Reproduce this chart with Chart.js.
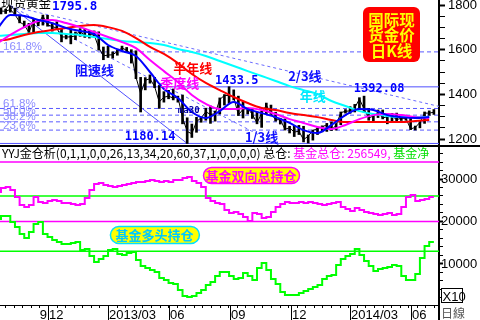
<!DOCTYPE html>
<html><head><meta charset="utf-8">
<script src="https://cdn.jsdelivr.net/npm/chart.js@4.4.1/dist/chart.umd.min.js"></script>
<style>
html,body{margin:0;padding:0;background:#fff;}
#wrap{position:relative;width:480px;height:320px;overflow:hidden;background:#fff;}
#top{position:absolute;left:0;top:0;}
#bot{position:absolute;left:0;top:146px;}
</style></head><body>
<div id="wrap"><canvas id="top" width="480" height="146"></canvas><canvas id="bot" width="480" height="174"></canvas></div>
<script>
// ---------- DATA (weekly, week 0 = 2012-09-14) ----------
const goldClose = [1770,1773,1772,1780,1757,1724,1711,1677,1730,1714,
 1752,1711,1704,1696,1657,1657,1657,1662,1687,1658,
 1667,1667,1609,1572,1576,1577,1592,1608,1597,1580,
 1477,1404,1463,1470,1435,1366,1387,1392,1383,1388,
 1296,1234,1223,1278,1295,1322,1310,1313,1377,1395,
 1395,1387,1308,1333,1338,1310,1272,1315,1352,1315,
 1286,1287,1244,1250,1231,1235,1197,1213,1238,1247,
 1254,1264,1240,1262,1318,1324,1326,1339,1379,1335,
 1294,1303,1318,1294,1300,1302,1287,1293,1292,1245,
 1252,1274,1316,1316,1320];
const goldHigh = [1778,1787,1781,1796,1786,1755,1728,1718,1738,1735,
 1755,1754,1720,1725,1695,1670,1693,1679,1694,1695,
 1684,1684,1680,1612,1616,1590,1597,1616,1610,1600,
 1595,1476,1475,1487,1476,1440,1412,1418,1424,1392,
 1397,1295,1267,1297,1298,1338,1348,1325,1384,1399,
 1434,1420,1392,1367,1340,1335,1320,1325,1361,1352,
 1320,1293,1290,1257,1260,1261,1257,1218,1240,1250,
 1259,1270,1276,1269,1321,1332,1345,1355,1385,1392,
 1337,1306,1330,1330,1302,1315,1316,1305,1302,1296,
 1258,1278,1321,1326,1332];
const goldLow = [1755,1760,1762,1768,1755,1720,1700,1672,1675,1707,
 1710,1705,1683,1690,1635,1648,1626,1645,1660,1655,
 1652,1662,1598,1555,1565,1562,1575,1598,1590,1540,
 1470,1321,1420,1450,1430,1337,1365,1380,1375,1365,
 1268,1180,1207,1230,1275,1284,1270,1280,1312,1352,
 1360,1375,1305,1294,1312,1292,1268,1252,1310,1310,
 1280,1267,1240,1227,1211,1220,1187,1182,1195,1220,
 1232,1234,1238,1240,1264,1316,1315,1321,1332,1320,
 1284,1277,1296,1290,1268,1279,1282,1283,1284,1242,
 1240,1250,1270,1306,1310];
// moving averages sampled every 3 weeks
const maWeeks = [0,3,6,9,12,15,18,21,24,27,30,33,36,39,42,45,48,51,54,57,60,63,66,69,72,75,78,81,84,87,90,93];
const maBlue = [1688,1755,1751,1733,1719,1697,1684,1670,1621,1594,1572,1500,1424,1384,1321,1294,1325,1366,1334,1316,1298,1272,1240,1227,1263,1307,1334,1330,1307,1298,1294,1298];
const maQuarter = [1625,1666,1701,1728,1733,1719,1701,1679,1657,1634,1607,1554,1504,1455,1397,1357,1334,1334,1339,1330,1312,1289,1272,1254,1245,1263,1289,1307,1312,1307,1298,1294];
const maHalfYear = [1639,1648,1666,1679,1688,1697,1706,1710,1701,1684,1652,1612,1581,1540,1491,1451,1419,1388,1361,1339,1330,1316,1307,1298,1285,1276,1276,1276,1276,1276,1281,1285];
const maYear = [1661,1666,1670,1675,1675,1670,1666,1657,1648,1639,1634,1630,1621,1603,1590,1572,1549,1527,1504,1482,1460,1437,1419,1401,1370,1348,1325,1312,1303,1298,1298,1298];
// fund positions (x10)
const fundTotal = [26940,26940,27880,28120,27410,25760,23880,23410,23880,25760,
 24590,24350,24820,25060,24820,24350,24350,24120,23880,24120,
 25530,27410,28820,29060,28590,28350,28120,28350,28590,28820,
 29060,29290,29290,29530,29760,29530,29290,29530,29290,29760,
 29760,30240,30470,29530,29060,28120,25530,24820,24350,24120,
 22710,22000,22240,21770,21060,20120,22000,21770,20820,21060,
 22240,23410,24120,24590,24350,24350,24590,24350,24590,24350,
 24120,23880,24120,24350,24590,23410,22940,22470,23170,22710,
 22240,22000,21770,21530,21770,22000,21530,21770,23410,25760,
 26240,24820,25060,25290,25760];
const fundLong = [20120,20590,21290,21290,19880,18710,17060,16120,17530,19410,
 19880,17060,16350,15650,15180,14710,14710,14940,15180,13290,
 13530,11880,10470,11180,11880,13290,13530,12350,12120,12590,
 12820,10940,9530,9060,8590,8120,6710,6240,5530,5300,
 3880,2470,2240,2470,3180,3880,5060,5760,7180,8120,
 8120,7180,6470,6710,7880,7180,6240,9060,10240,8590,
 6470,5300,3410,2710,2710,2710,3180,3650,4120,4590,
 5060,6470,7180,7410,9760,11180,11880,12350,13530,12120,
 10710,9530,8350,8820,9060,9290,9760,9530,7180,6240,
 6240,7650,11410,14240,15180];
// reference levels
const priceHigh = 1795.8, priceLow = 1180.14, swingHigh = 1433.5, swingHigh2 = 1392.08;
const fibLevels = [1590, 1336.7, 1306.8, 1276.9, 1239.9];
const fibLabels = ['161.8%','61.8%','50.0%','38.2%','23.6%'];
const speedStart = {x:3, y:1795.8};
const speedLow = {x:41, y:1180.14};
const speedTwoThirdEnd = {x:95.1, y:1346};
const speedOneThirdEnd = {x:61, y:1169};
const fundLines = {top:34000, green1:26000, mag:20000, green2:13000};
// axis ticks
const priceTicks = [1200,1250,1300,1350,1400,1450,1500,1550,1600,1650,1700,1750,1800];
const fundTicks = [2000,4000,6000,8000,10000,12000,14000,16000,18000,20000,22000,24000,26000,28000,30000,32000,34000,36000];
const xTickWeeks = [11.1,24,37.1,50.3,63.3,76,89.1];
const xTickLabels = ['12','2013/03','06','09','12','2014/03','06'];
const X_MIN = 0.787, X_MAX = 95.1;

// ---------- helpers ----------
Chart.defaults.font.family = '"Liberation Sans", Arial, sans-serif';
Chart.defaults.animation = false;
const CJK = '"Noto Sans CJK SC", "Liberation Sans", sans-serif';
const MONO = '"DejaVu Sans Mono", monospace';
const pts = arr => arr.map((v,i)=>({x:i,y:v}));
const maPts = arr => arr.map((v,i)=>({x:maWeeks[i],y:v}));
const hline = v => [{x:X_MIN,y:v},{x:X_MAX,y:v}];
const lineDS = (data,color,w,extra) => Object.assign({type:'line',data,borderColor:color,borderWidth:w,pointRadius:0,fill:false,tension:0}, extra||{});
const noPad = s => { s.paddingTop=0; s.paddingBottom=0; s.paddingLeft=0; s.paddingRight=0; };

// ---------- TOP chart ----------
const topNotes = [
 {t:'阻速线', w:16.9, v:1536, c:'#1010ff', f:'bold 13px '+CJK},
 {t:'半年线', w:38.0, v:1545, c:'#ff0000', f:'bold 13px '+CJK},
 {t:'季度线', w:35.2, v:1478, c:'#ff00ff', f:'bold 13px '+CJK},
 {t:'1433.5', w:47.0, v:1487, c:'#0000ff', f:'bold 12px '+MONO},
 {t:'2/3线', w:62.7, v:1509, c:'#1010ff', f:'bold 13px '+CJK},
 {t:'年线', w:65.2, v:1420, c:'#00e8ff', f:'bold 13px '+CJK},
 {t:'1392.08', w:76.8, v:1451, c:'#0000ff', f:'bold 12px '+MONO},
 {t:'1180.14', w:27.6, v:1236, c:'#0000ff', f:'bold 12px '+MONO},
 {t:'1/3线', w:53.4, v:1236, c:'#1010ff', f:'bold 13px '+CJK},
 {t:'ma30', w:39.0, v:1348, c:'#0000a0', f:'bold 9px '+MONO}
];
const topPlugin = {
 id:'topNotes',
 afterDatasetsDraw(chart){
  const {ctx, scales:{x,y}, chartArea:ca} = chart;
  ctx.save();
  ctx.textAlign='left';
  ctx.textBaseline='bottom';
  ctx.font='11.5px "Liberation Sans"';
  ctx.fillStyle='#8c8cff';
  fibLevels.forEach((v,i)=>ctx.fillText(fibLabels[i], ca.left+3, y.getPixelForValue(v)+1));
  ctx.textBaseline='top';
  topNotes.forEach(n=>{ctx.font=n.f;ctx.fillStyle=n.c;ctx.fillText(n.t,x.getPixelForValue(n.w),y.getPixelForValue(n.v));});
  // title
  ctx.textBaseline='alphabetic';
  ctx.font='12.5px '+CJK; ctx.fillStyle='#000';
  ctx.fillText('现货黄金', ca.left+1, 8);
  ctx.font='bold 12.5px '+MONO; ctx.fillStyle='#0000ff';
  ctx.fillText(String(priceHigh), ca.left+52, 10);
  // red box
  ctx.fillStyle='#ff0000';
  ctx.beginPath(); ctx.roundRect(363,7,57,55,6); ctx.fill();
  ctx.fillStyle='#ffff00'; ctx.font='bold 15.5px '+CJK; ctx.textAlign='center'; ctx.textBaseline='middle';
  ['国际现','货金价','日K线'].forEach((s,i)=>ctx.fillText(s,391.5,20+i*15.5));
  // separator
  ctx.fillStyle='#000'; ctx.fillRect(0,145,480,1);
  ctx.restore();
 }
};
new Chart(document.getElementById('top'),{
 type:'line',
 data:{datasets:[
  lineDS(maPts(maBlue),'#0000ff',2,{cubicInterpolationMode:'monotone'}),
  lineDS(maPts(maQuarter),'#ff00ff',2,{cubicInterpolationMode:'monotone'}),
  lineDS(maPts(maHalfYear),'#ff0000',2,{cubicInterpolationMode:'monotone'}),
  lineDS(maPts(maYear),'#00ffff',2,{cubicInterpolationMode:'monotone'}),
  lineDS(pts(goldClose),'#000000',1),
  {type:'bar',data:goldHigh.map((h,i)=>({x:i,y:[goldLow[i],h]})),backgroundColor:'#000',barThickness:2,grouped:false},
  lineDS([speedStart,speedLow],'#5050ff',1),
  lineDS([speedStart,speedTwoThirdEnd],'#6a6aff',1,{borderDash:[3,3]}),
  lineDS([speedStart,speedOneThirdEnd],'#6a6aff',1,{borderDash:[3,3]}),
  lineDS(hline(swingHigh),'#5050ff',1),
  lineDS(hline(priceLow),'#5050ff',1),
  ...fibLevels.map(v=>lineDS(hline(v),'#5a5aff',1,{borderDash:[4,3]}))
 ]},
 options:{responsive:false,events:[],layout:{padding:0},
  plugins:{legend:{display:false},tooltip:{enabled:false}},
  scales:{
   x:{type:'linear',min:X_MIN,max:X_MAX,offset:false,display:false},
   y:{type:'linear',position:'right',min:1168.7,max:1822.4,
    afterFit(s){s.width=41;noPad(s);},
    afterBuildTicks(s){s.ticks=priceTicks.map(v=>({value:v}));},
    ticks:{autoSkip:false,padding:3,color:'#000',font:{size:13},callback:v=>(v%200===0?String(v):'')},
    grid:{drawOnChartArea:false,drawTicks:true,tickLength:6,tickColor:'#000',tickWidth:c=>(c.tick&&c.tick.value%200===0?2:1)},
    border:{display:true,color:'#000',width:2}}
  }},
 plugins:[topPlugin]
});

// ---------- BOTTOM chart ----------
const botPlugin = {
 id:'botNotes',
 afterDraw(chart){
  const {ctx, scales:{x,y}, chartArea:ca} = chart;
  ctx.save();
  ctx.fillStyle='#000';
  ctx.fillRect(0,0,480,1);
  ctx.fillRect(ca.left,ca.bottom,ca.right-ca.left,1);
  ctx.fillRect(ca.right-1,ca.bottom,2,chart.height-ca.bottom);
  // x ticks
  const majors = xTickWeeks.map(w=>x.getPixelForValue(w));
  const step = (majors[1]-majors[0])/7;
  for(let p=majors[0]-step*6;p<ca.right;p+=step){ if(p>0) ctx.fillRect(Math.round(p),ca.bottom,1,3); }
  ctx.font='13px "Liberation Sans"'; ctx.textBaseline='alphabetic'; ctx.textAlign='left';
  majors.forEach((p,i)=>{ctx.fillRect(Math.round(p),ca.bottom,1,chart.height-ca.bottom);ctx.fillText(xTickLabels[i],Math.round(p)+1,ca.bottom+13.5);});
  ctx.textAlign='right'; ctx.fillText('9',Math.round(majors[0])-1,ca.bottom+13.5);
  // header
  ctx.textAlign='left'; ctx.font='12px '+CJK;
  let cx = ca.left+2; const by = 11.5;
  [['YYJ金仓析(0,1,1,0,0,26,13,34,20,60,37,1,0,0,0,0) 总仓: ','#000'],['基金总仓: 256549, ','#ff00ff'],['基金净','#00e000']].forEach(([s,c])=>{ctx.fillStyle=c;ctx.fillText(s,cx,by);cx+=ctx.measureText(s).width;});
  // label boxes
  const box=(t,w,v,bw,bh,fg,bd)=>{const px=x.getPixelForValue(w),py=y.getPixelForValue(v);
   ctx.fillStyle='#ffff00';ctx.strokeStyle=bd;ctx.lineWidth=1.5;ctx.beginPath();ctx.roundRect(px+0.5,py+0.5,bw,bh,bh/2);ctx.fill();ctx.stroke();
   ctx.fillStyle=fg;ctx.font='bold 13px '+CJK;ctx.textAlign='center';ctx.textBaseline='middle';ctx.fillText(t,px+bw/2,py+bh/2+1);};
  box('基金双向总持仓',44.4,32820,96,16,'#ff00ff','#ff00ff');
  box('基金多头持仓',24.4,18940,89,17,'#00c8ff','#00e0ff');
  // X10 and 日線
  ctx.textAlign='left'; ctx.textBaseline='alphabetic';
  ctx.fillStyle='#fff'; ctx.fillRect(441,142,21,14); ctx.strokeStyle='#000'; ctx.lineWidth=1; ctx.strokeRect(441.5,142.5,21,14);
  ctx.fillStyle='#000'; ctx.font='13px "Liberation Sans"'; ctx.fillText('X10',442.5,154.5);
  ctx.fillStyle='#555'; ctx.font='12px '+CJK; ctx.fillText('日線',441,172);
  ctx.restore();
 }
};
new Chart(document.getElementById('bot'),{
 type:'line',
 data:{datasets:[
  lineDS(pts(fundTotal),'#ff00ff',2,{stepped:'after'}),
  lineDS(pts(fundLong),'#00ff00',2,{stepped:'after'}),
  lineDS(hline(fundLines.top),'#ff00ff',1.5),
  lineDS(hline(fundLines.green1),'#00ff00',1.5),
  lineDS(hline(fundLines.mag),'#ff00ff',1.5),
  lineDS(hline(fundLines.green2),'#00ff00',1.5)
 ]},
 options:{responsive:false,events:[],layout:{padding:0},
  plugins:{legend:{display:false},tooltip:{enabled:false}},
  scales:{
   x:{type:'linear',min:X_MIN,max:X_MAX,offset:false,display:true,
    afterFit(s){s.height=15;noPad(s);},
    ticks:{display:false},grid:{display:false},border:{display:false}},
   y:{type:'linear',position:'right',min:352,max:37765,
    afterFit(s){s.width=41;noPad(s);},
    afterBuildTicks(s){s.ticks=fundTicks.map(v=>({value:v}));},
    ticks:{autoSkip:false,padding:-2,color:'#000',font:{size:13},callback:v=>(v%10000===0?String(v):'')},
    grid:{drawOnChartArea:false,drawTicks:true,tickLength:4,tickColor:'#000',tickWidth:c=>(c.tick&&c.tick.value%10000===0?2:1)},
    border:{display:true,color:'#000',width:2}}
  }},
 plugins:[botPlugin]
});
</script></body></html>
